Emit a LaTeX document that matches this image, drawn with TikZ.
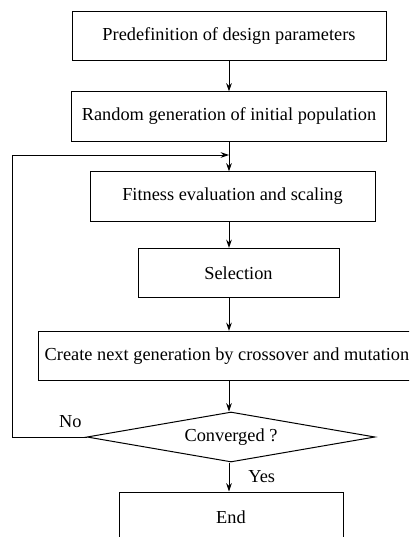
\documentclass[tikz,border=0pt]{standalone}
\usepackage{fontspec}
\setmainfont{Liberation Serif}
\usetikzlibrary{arrows.meta, shapes.geometric}

\begin{document}
\begin{tikzpicture}[x=0.6pt, y=-0.6pt, font=\fontsize{11}{13}\selectfont,
    box/.style={draw, line width=0.6pt, minimum height=29.5pt, inner sep=0pt},
    arr/.style={line width=0.6pt, -{Stealth[length=5pt, width=3.4pt]}}]
        \clip (0,0) rectangle (409,537);
        \node[box, minimum width=188.4pt] (pre) at (229,36) {Predefinition of design parameters};
        \node[box, minimum width=189pt] (init) at (229,116.5) {Random generation of initial population};
        \node[box, minimum width=171pt] (fit) at (232.5,196.5) {Fitness evaluation and scaling};
        \node[box, minimum width=120.6pt] (sel) at (238.5,273) {Selection};
        \node[box, minimum width=226.8pt] (cross) at (227,356) {Create next generation by crossover and mutation};
        \node[diamond, draw, line width=0.6pt, aspect=5.76, inner sep=0pt, minimum width=172.8pt, minimum height=30pt] (conv) at (231,437) {Converged ?};
        \node[box, minimum width=134.4pt, minimum height=30pt] (stop) at (231,517) {End};
        \coordinate (join) at (229,155);
        \draw[arr] (pre) -- (init);
        \draw[arr] (init) -- (init |- fit.north);
        \draw[arr] (fit.south -| init) -- (init |- sel.north);
        \draw[arr] (sel.south -| init) -- (init |- cross.north);
        \draw[arr] (cross.south -| init) -- (init |- conv.north);
        \draw[arr] (conv.south -| init) -- node[right, xshift=8pt] {Yes} (init |- stop.north);
        \draw[arr] (conv.west) -- node[above, pos=0.22, yshift=2pt] {No} ++(-74,0) |- (join);
      \end{tikzpicture}
\end{document}
